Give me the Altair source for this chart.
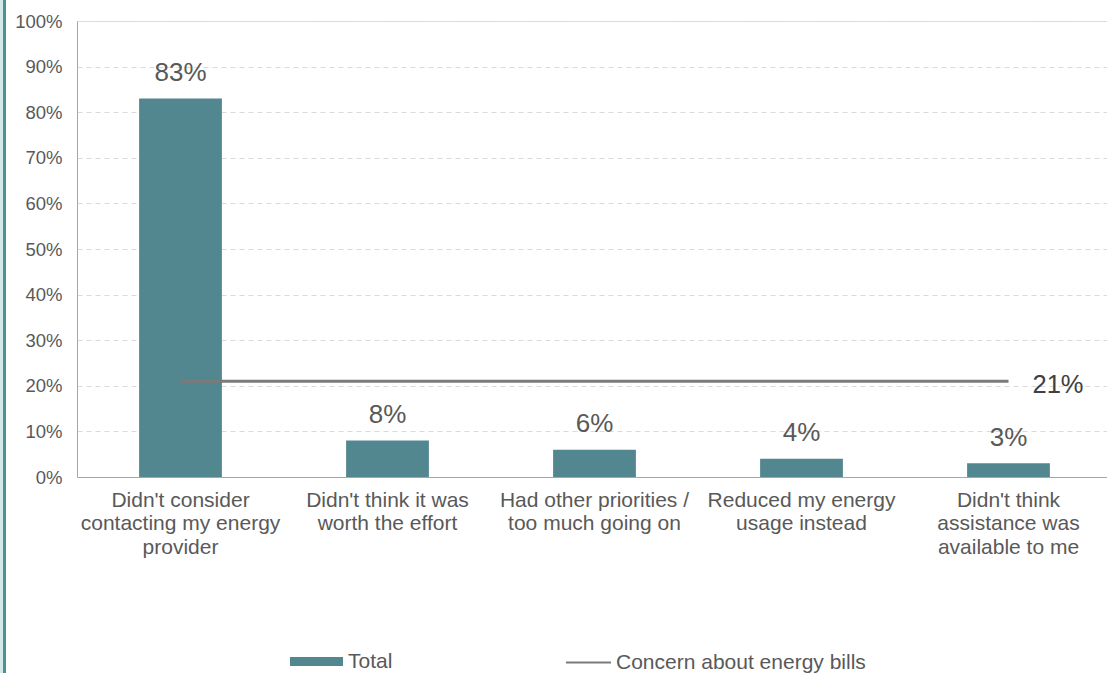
import altair as alt
import pandas as pd

# Reasons given for not seeking help, share of respondents
reason_lines = [
    ["Didn't consider", "contacting my energy", "provider"],
    ["Didn't think it was", "worth the effort"],
    ["Had other priorities /", "too much going on"],
    ["Reduced my energy", "usage instead"],
    ["Didn't think", "assistance was", "available to me"],
]
total_pct = [83, 8, 6, 4, 3]
concern_pct = 21

categories = ["\n".join(lines) for lines in reason_lines]

FONT = "Liberation Sans"
BAR = "#538790"
LINE = "#7a7a7a"
TEXT = "#595959"

bars_df = pd.DataFrame({
    "reason": categories,
    "value": total_pct,
    "label": [f"{v}%" for v in total_pct],
    "series": "Total",
})
line_df = pd.DataFrame({
    "start": [categories[0]],
    "end": [categories[-1]],
    "value": [concern_pct],
    "label": [f"{concern_pct}%"],
    "series": ["Concern about energy bills"],
})

x_scale = alt.Scale(domain=categories, range=[0, 1035], paddingInner=0.6, paddingOuter=0.3)
y_scale = alt.Scale(domain=[0, 100])

x_axis = alt.Axis(
    title=None, labelAngle=0, ticks=False, domainColor="#a6a6a6",
    labelExpr="split(datum.label, '\\n')", labelLineHeight=23.5,
    labelFontSize=21, labelColor=TEXT, labelFont=FONT, labelPadding=12,
    labelBaseline="top", labelLimit=400,
)
y_axis = alt.Axis(
    title=None, values=list(range(0, 101, 10)), labelExpr="datum.value + '%'",
    ticks=False, domainColor="#a6a6a6", labelFontSize=18.5, labelColor=TEXT,
    labelFont=FONT, labelPadding=15, gridColor="#dadada", gridDash=[5, 4],
)

bars = alt.Chart(bars_df).mark_bar(color=BAR).encode(
    x=alt.X("reason:N", scale=x_scale, axis=x_axis, sort=categories),
    y=alt.Y("value:Q", scale=y_scale, axis=y_axis),
    fill=alt.Fill(
        "series:N",
        scale=alt.Scale(domain=["Total"], range=[BAR]),
        legend=alt.Legend(
            title=None, orient="none", legendX=213, legendY=614,
            symbolType="M-1,-0.17H1V0.17H-1Z", symbolSize=2809,
            symbolStrokeWidth=0, labelFontSize=21, labelColor=TEXT,
            labelFont=FONT, labelOffset=5, padding=0, labelLimit=400,
        ),
    ),
)

value_labels = alt.Chart(bars_df).mark_text(
    font=FONT, fontSize=26, color=TEXT, baseline="alphabetic", dy=-17.5
).encode(
    x=alt.X("reason:N", scale=x_scale, sort=categories),
    y=alt.Y("value:Q", scale=y_scale),
    text="label:N",
)

concern_line = alt.Chart(line_df).mark_rule(strokeWidth=2.8).encode(
    x=alt.X("start:N", scale=x_scale),
    x2="end:N",
    y=alt.Y("value:Q", scale=y_scale),
    stroke=alt.Stroke(
        "series:N",
        scale=alt.Scale(domain=["Concern about energy bills"], range=[LINE]),
        legend=alt.Legend(
            title=None, orient="none", legendX=488, legendY=618,
            symbolType="stroke", symbolSize=2025, symbolStrokeWidth=2,
            labelFontSize=21, labelColor=TEXT, labelFont=FONT,
            labelOffset=4, padding=0, labelLimit=400,
        ),
    ),
)

concern_label = alt.Chart(line_df).mark_text(
    font=FONT, fontSize=25.5, color="#404040", align="left",
    baseline="middle", dx=24, dy=4,
).encode(
    x=alt.X("end:N", scale=x_scale),
    y=alt.Y("value:Q", scale=y_scale),
    text="label:N",
)

# Slide frame on the left edge
frame_fill = alt.Chart(pd.DataFrame({"k": [0]})).mark_rect(color="#d3e9ea").encode(
    x=alt.value(-77), x2=alt.value(-74), y=alt.value(-21), y2=alt.value(652)
)
frame_line = alt.Chart(pd.DataFrame({"k": [0]})).mark_rule(
    color="#4f8f98", strokeWidth=3
).encode(x=alt.value(-72.5), y=alt.value(-21), y2=alt.value(652))

chart = alt.layer(
    frame_fill, frame_line, bars, value_labels, concern_line, concern_label
).properties(
    width=1030,
    height=456,
    autosize=alt.AutoSizeParams(type="none"),
    padding={"left": 77, "top": 21, "right": 0, "bottom": 196},
).configure_view(
    stroke=None
).configure(
    background="white"
)

chart.save("out.html", embed_options={"renderer": "svg", "actions": False})
